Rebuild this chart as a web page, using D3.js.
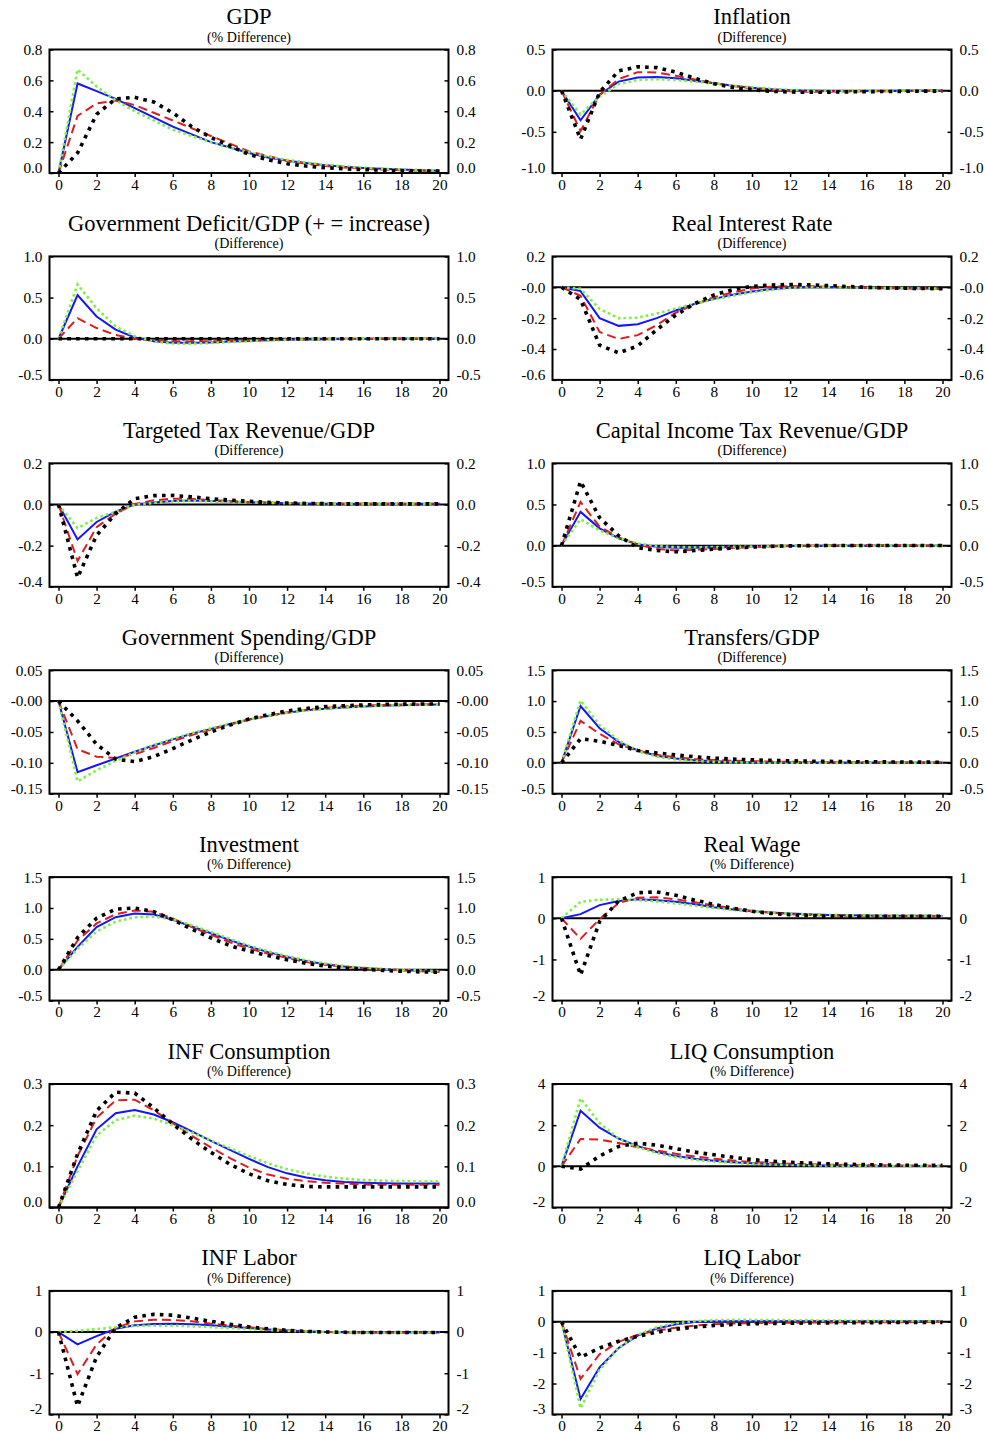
<!DOCTYPE html>
<html>
<head>
<meta charset="utf-8">
<script src="https://cdn.jsdelivr.net/npm/d3@7/dist/d3.min.js"></script>
<style>
  html, body { margin: 0; padding: 0; background: #fff; }
  svg { display: block; }
</style>
</head>
<body>
<div id="chart"></div>
<script>
// Quarters after the shock
const quarters = [0, 1, 2, 3, 4, 5, 6, 7, 8, 9, 10, 11, 12, 13, 14, 15, 16, 17, 18, 19, 20];
const quarterTicks = [0, 2, 4, 6, 8, 10, 12, 14, 16, 18, 20];

// Each panel has four responses: solid (blue), dashed (red), dotted (green), heavy dotted (black)
const gdpSolid  = [0, 0.58, 0.53, 0.48, 0.42, 0.36, 0.30, 0.25, 0.20, 0.165, 0.13, 0.10, 0.08, 0.065, 0.05, 0.04, 0.033, 0.027, 0.022, 0.018, 0.015];
const gdpDashed = [0, 0.37, 0.45, 0.47, 0.44, 0.39, 0.34, 0.29, 0.24, 0.19, 0.14, 0.11, 0.08, 0.06, 0.045, 0.035, 0.027, 0.022, 0.018, 0.015, 0.013];
const gdpDotted = [0, 0.67, 0.56, 0.47, 0.40, 0.34, 0.28, 0.24, 0.20, 0.165, 0.135, 0.105, 0.085, 0.068, 0.053, 0.042, 0.034, 0.028, 0.023, 0.019, 0.016];
const gdpHeavy  = [0, 0.13, 0.38, 0.48, 0.49, 0.46, 0.39, 0.30, 0.23, 0.175, 0.12, 0.085, 0.06, 0.045, 0.034, 0.027, 0.022, 0.018, 0.015, 0.013, 0.012];
const gdpTicks  = ["0.8", "0.6", "0.4", "0.2", "0.0"];

const infSolid  = [0, -0.36, -0.05, 0.11, 0.16, 0.165, 0.15, 0.12, 0.09, 0.06, 0.035, 0.018, 0.006, -0.002, -0.005, -0.005, -0.004, -0.003, -0.002, -0.001, 0];
const infDashed = [0, -0.49, -0.05, 0.14, 0.225, 0.22, 0.18, 0.135, 0.09, 0.057, 0.03, 0.01, -0.006, -0.012, -0.012, -0.01, -0.008, -0.006, -0.004, -0.002, -0.001];
const infDotted = [0, -0.29, -0.07, 0.08, 0.13, 0.14, 0.13, 0.11, 0.085, 0.06, 0.04, 0.022, 0.009, 0.0, -0.004, -0.005, -0.004, -0.003, -0.002, -0.001, 0];
const infHeavy  = [0, -0.59, -0.02, 0.24, 0.29, 0.28, 0.225, 0.15, 0.085, 0.04, 0.012, -0.008, -0.016, -0.02, -0.018, -0.015, -0.012, -0.01, -0.008, -0.006, -0.005];
const infTicks  = ["0.5", "0.0", "-0.5", "-1.0"];

const defSolid  = [0, 0.53, 0.27, 0.11, 0.015, -0.03, -0.048, -0.05, -0.045, -0.035, -0.027, -0.019, -0.012, -0.008, -0.005, -0.003, -0.002, -0.001, 0, 0, 0];
const defDashed = [0, 0.25, 0.13, 0.045, 0.0, -0.02, -0.03, -0.033, -0.03, -0.025, -0.02, -0.015, -0.01, -0.007, -0.004, -0.003, -0.002, -0.001, 0, 0, 0];
const defDotted = [0, 0.66, 0.37, 0.15, 0.03, -0.035, -0.058, -0.06, -0.052, -0.04, -0.03, -0.02, -0.013, -0.008, -0.005, -0.003, -0.002, -0.001, 0, 0, 0];
const defHeavy  = [0, 0, 0, 0, 0, 0, 0, 0, 0, 0, 0, 0, 0, 0, 0, 0, 0, 0, 0, 0, 0];
const defTicks  = ["1.0", "0.5", "0.0", "-0.5"];

const rirSolid  = [0, -0.025, -0.2, -0.25, -0.24, -0.2, -0.15, -0.107, -0.075, -0.048, -0.027, -0.012, -0.003, 0.0, 0.0, -0.002, -0.004, -0.006, -0.007, -0.008, -0.009];
const rirDashed = [0, -0.055, -0.29, -0.335, -0.31, -0.245, -0.165, -0.11, -0.065, -0.033, -0.008, 0.004, 0.008, 0.007, 0.004, 0.0, -0.003, -0.005, -0.007, -0.008, -0.009];
const rirDotted = [0, -0.01, -0.14, -0.2, -0.197, -0.17, -0.138, -0.106, -0.078, -0.054, -0.033, -0.016, -0.005, 0.0, 0.0, -0.002, -0.004, -0.005, -0.006, -0.007, -0.008];
const rirHeavy  = [0, -0.08, -0.375, -0.425, -0.38, -0.275, -0.18, -0.105, -0.05, -0.015, 0.006, 0.015, 0.018, 0.016, 0.011, 0.005, 0.0, -0.004, -0.006, -0.008, -0.009];
const rirTicks  = ["0.2", "-0.0", "-0.2", "-0.4", "-0.6"];

const ttxSolid  = [0, -0.17, -0.085, -0.035, 0.0, 0.01, 0.017, 0.019, 0.017, 0.014, 0.011, 0.008, 0.006, 0.005, 0.004, 0.004, 0.003, 0.003, 0.003, 0.003, 0.003];
const ttxDashed = [0, -0.275, -0.11, -0.045, 0.002, 0.02, 0.028, 0.027, 0.021, 0.016, 0.012, 0.009, 0.007, 0.006, 0.005, 0.004, 0.004, 0.003, 0.003, 0.003, 0.003];
const ttxDotted = [0, -0.115, -0.065, -0.035, -0.002, 0.008, 0.015, 0.017, 0.015, 0.012, 0.01, 0.008, 0.006, 0.005, 0.004, 0.004, 0.003, 0.003, 0.003, 0.003, 0.003];
const ttxHeavy  = [0, -0.355, -0.15, -0.045, 0.028, 0.043, 0.044, 0.037, 0.028, 0.021, 0.015, 0.01, 0.007, 0.005, 0.004, 0.003, 0.003, 0.003, 0.003, 0.003, 0.003];
const ttxTicks  = ["0.2", "0.0", "-0.2", "-0.4"];

const ktxSolid  = [0, 0.41, 0.21, 0.09, 0.018, -0.015, -0.025, -0.026, -0.022, -0.017, -0.012, -0.008, -0.005, -0.003, -0.001, 0, 0, 0, 0, 0, 0];
const ktxDashed = [0, 0.53, 0.23, 0.1, 0.012, -0.04, -0.058, -0.052, -0.04, -0.028, -0.018, -0.01, -0.004, 0.0, 0.004, 0.007, 0.008, 0.006, 0.004, 0.003, 0.002];
const ktxDotted = [0, 0.32, 0.185, 0.09, 0.025, -0.005, -0.017, -0.02, -0.018, -0.015, -0.011, -0.008, -0.005, -0.003, -0.001, 0, 0, 0, 0, 0, 0];
const ktxHeavy  = [0, 0.78, 0.34, 0.12, -0.025, -0.06, -0.075, -0.06, -0.042, -0.03, -0.018, -0.009, -0.003, 0.0, 0.001, 0.002, 0.002, 0.002, 0.001, 0.001, 0.001];
const ktxTicks  = ["1.0", "0.5", "0.0", "-0.5"];

const gspSolid  = [0, -0.115, -0.104, -0.093, -0.082, -0.072, -0.062, -0.053, -0.045, -0.037, -0.030, -0.024, -0.019, -0.015, -0.0125, -0.0103, -0.0087, -0.0075, -0.0066, -0.006, -0.0055];
const gspDashed = [0, -0.078, -0.09, -0.092, -0.086, -0.076, -0.065, -0.055, -0.046, -0.038, -0.030, -0.024, -0.018, -0.014, -0.011, -0.0088, -0.0072, -0.0062, -0.0056, -0.0052, -0.005];
const gspDotted = [0, -0.13, -0.112, -0.097, -0.083, -0.071, -0.061, -0.052, -0.044, -0.037, -0.030, -0.024, -0.019, -0.015, -0.0125, -0.0103, -0.0087, -0.0075, -0.0066, -0.006, -0.0055];
const gspHeavy  = [0, -0.032, -0.07, -0.094, -0.098, -0.09, -0.077, -0.063, -0.05, -0.039, -0.029, -0.022, -0.016, -0.012, -0.009, -0.0075, -0.0062, -0.0055, -0.005, -0.0048, -0.0046];
const gspTicks  = ["0.05", "-0.00", "-0.05", "-0.10", "-0.15"];

const trnSolid  = [0, 0.92, 0.56, 0.34, 0.2, 0.115, 0.07, 0.043, 0.027, 0.017, 0.011, 0.007, 0.005, 0.003, 0.002, 0.001, 0.001, 0, 0, 0, 0];
const trnDashed = [0, 0.68, 0.47, 0.3, 0.195, 0.13, 0.088, 0.062, 0.045, 0.034, 0.026, 0.02, 0.016, 0.013, 0.011, 0.009, 0.008, 0.007, 0.006, 0.005, 0.005];
const trnDotted = [0, 1.01, 0.61, 0.36, 0.19, 0.1, 0.055, 0.03, 0.016, 0.009, 0.005, 0.003, 0.002, 0.001, 0, 0, 0, 0, 0, 0, 0];
const trnHeavy  = [0, 0.39, 0.35, 0.28, 0.2, 0.16, 0.128, 0.098, 0.076, 0.06, 0.048, 0.039, 0.032, 0.027, 0.023, 0.019, 0.017, 0.015, 0.013, 0.011, 0.01];
const trnTicks  = ["1.5", "1.0", "0.5", "0.0", "-0.5"];

const invSolid  = [0, 0.37, 0.69, 0.85, 0.91, 0.895, 0.81, 0.70, 0.59, 0.48, 0.375, 0.285, 0.205, 0.14, 0.09, 0.054, 0.027, 0.01, -0.005, -0.016, -0.025];
const invDashed = [0, 0.47, 0.75, 0.9, 0.96, 0.94, 0.83, 0.69, 0.565, 0.445, 0.34, 0.26, 0.19, 0.125, 0.08, 0.048, 0.025, 0.006, -0.01, -0.025, -0.035];
const invDotted = [0, 0.34, 0.62, 0.78, 0.85, 0.86, 0.815, 0.72, 0.61, 0.5, 0.39, 0.3, 0.22, 0.15, 0.1, 0.06, 0.032, 0.013, -0.002, -0.013, -0.022];
const invHeavy  = [0, 0.52, 0.835, 0.98, 1.0, 0.94, 0.81, 0.655, 0.515, 0.39, 0.3, 0.23, 0.16, 0.105, 0.06, 0.028, 0.006, -0.01, -0.025, -0.035, -0.042];
const invTicks  = ["1.5", "1.0", "0.5", "0.0", "-0.5"];

const rwgSolid  = [0, 0.1, 0.32, 0.42, 0.46, 0.44, 0.40, 0.34, 0.27, 0.215, 0.17, 0.14, 0.115, 0.095, 0.082, 0.074, 0.068, 0.064, 0.062, 0.06, 0.058];
const rwgDashed = [0, -0.5, -0.02, 0.37, 0.5, 0.51, 0.46, 0.39, 0.31, 0.24, 0.18, 0.135, 0.1, 0.08, 0.068, 0.06, 0.055, 0.052, 0.05, 0.05, 0.05];
const rwgDotted = [0, 0.4, 0.45, 0.46, 0.44, 0.41, 0.36, 0.305, 0.25, 0.205, 0.165, 0.135, 0.11, 0.092, 0.08, 0.072, 0.066, 0.063, 0.06, 0.058, 0.057];
const rwgHeavy  = [0, -1.38, -0.08, 0.42, 0.62, 0.64, 0.56, 0.44, 0.335, 0.245, 0.17, 0.118, 0.085, 0.065, 0.052, 0.048, 0.046, 0.045, 0.045, 0.045, 0.045];
const rwgTicks  = ["1", "0", "-1", "-2"];

const infcSolid  = [0, 0.1, 0.19, 0.229, 0.237, 0.226, 0.207, 0.185, 0.162, 0.14, 0.118, 0.098, 0.083, 0.073, 0.066, 0.062, 0.06, 0.059, 0.058, 0.058, 0.058];
const infcDashed = [0, 0.125, 0.218, 0.26, 0.262, 0.236, 0.205, 0.174, 0.146, 0.12, 0.097, 0.08, 0.07, 0.064, 0.06, 0.058, 0.056, 0.055, 0.055, 0.055, 0.055];
const infcDotted = [0, 0.088, 0.175, 0.212, 0.223, 0.216, 0.2, 0.182, 0.163, 0.144, 0.125, 0.107, 0.093, 0.083, 0.075, 0.07, 0.067, 0.065, 0.064, 0.063, 0.063];
const infcHeavy  = [0, 0.13, 0.235, 0.28, 0.278, 0.242, 0.203, 0.166, 0.134, 0.105, 0.082, 0.065, 0.056, 0.051, 0.05, 0.05, 0.05, 0.05, 0.05, 0.05, 0.05];
const infcTicks  = ["0.3", "0.2", "0.1", "0.0"];

const liqcSolid  = [0, 2.7, 1.88, 1.35, 0.98, 0.7, 0.5, 0.37, 0.27, 0.2, 0.15, 0.11, 0.08, 0.06, 0.045, 0.035, 0.028, 0.022, 0.018, 0.015, 0.012];
const liqcDashed = [0, 1.33, 1.3, 1.13, 0.93, 0.77, 0.61, 0.48, 0.37, 0.28, 0.21, 0.165, 0.13, 0.1, 0.08, 0.065, 0.055, 0.047, 0.04, 0.035, 0.03];
const liqcDotted = [0, 3.3, 2.1, 1.35, 0.93, 0.64, 0.45, 0.32, 0.23, 0.17, 0.125, 0.09, 0.065, 0.05, 0.037, 0.028, 0.022, 0.017, 0.014, 0.011, 0.009];
const liqcHeavy  = [0, -0.13, 0.5, 0.97, 1.12, 1.03, 0.86, 0.69, 0.56, 0.44, 0.33, 0.25, 0.195, 0.16, 0.125, 0.1, 0.08, 0.065, 0.055, 0.05, 0.045];
const liqcTicks  = ["4", "2", "0", "-2"];

const inflSolid  = [0, -0.3, -0.1, 0.08, 0.165, 0.195, 0.2, 0.187, 0.163, 0.13, 0.098, 0.065, 0.04, 0.018, 0.002, -0.006, -0.01, -0.01, -0.01, -0.01, -0.01];
const inflDashed = [0, -1.02, -0.3, 0.1, 0.26, 0.3, 0.295, 0.26, 0.205, 0.16, 0.115, 0.075, 0.042, 0.017, 0.002, -0.006, -0.01, -0.01, -0.01, -0.01, -0.01];
const inflDotted = [0, 0.03, 0.07, 0.12, 0.15, 0.155, 0.155, 0.14, 0.12, 0.097, 0.073, 0.05, 0.03, 0.015, 0.002, -0.006, -0.01, -0.01, -0.01, -0.01, -0.01];
const inflHeavy  = [0, -1.8, -0.6, 0.1, 0.36, 0.43, 0.41, 0.34, 0.26, 0.19, 0.125, 0.08, 0.042, 0.017, 0.002, -0.006, -0.01, -0.01, -0.01, -0.01, -0.01];
const inflTicks  = ["1", "0", "-1", "-2"];

const liqlSolid  = [0, -2.5, -1.48, -0.85, -0.45, -0.22, -0.08, -0.01, 0.01, 0.02, 0.02, 0.02, 0.02, 0.02, 0.02, 0.02, 0.02, 0.02, 0.02, 0.02, 0.02];
const liqlDashed = [0, -1.85, -1.05, -0.65, -0.42, -0.29, -0.19, -0.125, -0.08, -0.055, -0.042, -0.035, -0.03, -0.025, -0.02, -0.018, -0.015, -0.013, -0.012, -0.011, -0.01];
const liqlDotted = [0, -2.8, -1.55, -0.85, -0.42, -0.18, -0.05, 0.02, 0.05, 0.06, 0.06, 0.055, 0.05, 0.045, 0.04, 0.035, 0.03, 0.03, 0.025, 0.025, 0.02];
const liqlHeavy  = [0, -1.15, -0.85, -0.63, -0.47, -0.34, -0.24, -0.17, -0.12, -0.088, -0.066, -0.054, -0.046, -0.04, -0.035, -0.031, -0.028, -0.025, -0.023, -0.021, -0.02];
const liqlTicks  = ["1", "0", "-1", "-2", "-3"];

const panels = [
  { title: "GDP", sub: "(% Difference)", ticks: gdpTicks, series: [gdpSolid, gdpDashed, gdpDotted, gdpHeavy] },
  { title: "Inflation", sub: "(Difference)", ticks: infTicks, series: [infSolid, infDashed, infDotted, infHeavy] },
  { title: "Government Deficit/GDP (+ = increase)", sub: "(Difference)", ticks: defTicks, series: [defSolid, defDashed, defDotted, defHeavy] },
  { title: "Real Interest Rate", sub: "(Difference)", ticks: rirTicks, series: [rirSolid, rirDashed, rirDotted, rirHeavy] },
  { title: "Targeted Tax Revenue/GDP", sub: "(Difference)", ticks: ttxTicks, series: [ttxSolid, ttxDashed, ttxDotted, ttxHeavy] },
  { title: "Capital Income Tax Revenue/GDP", sub: "(Difference)", ticks: ktxTicks, series: [ktxSolid, ktxDashed, ktxDotted, ktxHeavy] },
  { title: "Government Spending/GDP", sub: "(Difference)", ticks: gspTicks, series: [gspSolid, gspDashed, gspDotted, gspHeavy] },
  { title: "Transfers/GDP", sub: "(Difference)", ticks: trnTicks, series: [trnSolid, trnDashed, trnDotted, trnHeavy] },
  { title: "Investment", sub: "(% Difference)", ticks: invTicks, series: [invSolid, invDashed, invDotted, invHeavy] },
  { title: "Real Wage", sub: "(% Difference)", ticks: rwgTicks, series: [rwgSolid, rwgDashed, rwgDotted, rwgHeavy] },
  { title: "INF Consumption", sub: "(% Difference)", ticks: infcTicks, series: [infcSolid, infcDashed, infcDotted, infcHeavy] },
  { title: "LIQ Consumption", sub: "(% Difference)", ticks: liqcTicks, series: [liqcSolid, liqcDashed, liqcDotted, liqcHeavy] },
  { title: "INF Labor", sub: "(% Difference)", ticks: inflTicks, series: [inflSolid, inflDashed, inflDotted, inflHeavy] },
  { title: "LIQ Labor", sub: "(% Difference)", ticks: liqlTicks, series: [liqlSolid, liqlDashed, liqlDotted, liqlHeavy] }
];

// Line styles, in drawing order
const lineStyles = [
  { color: "#1414ff", width: 2,   dash: null },
  { color: "#dc1e1e", width: 2,   dash: "9,5" },
  { color: "#7cf23a", width: 2.6, dash: "2.6,3" },
  { color: "#000000", width: 3.6, dash: "3.6,5.2" }
];

const W = 985, H = 1434;
const serif = "'Liberation Serif', 'Times New Roman', Times, serif";
const colLeft = [49.5, 552.5];
const boxW = 399, boxH = 123.5;
const rowTop0 = 49.5, rowStep = 206.9;

const svg = d3.select("#chart").append("svg")
  .attr("width", W).attr("height", H)
  .style("background", "#fff");

panels.forEach((p, i) => {
  const col = i % 2, row = Math.floor(i / 2);
  const g = svg.append("g")
    .attr("transform", `translate(${colLeft[col]},${rowTop0 + row * rowStep})`);

  const tickVals = p.ticks.map(Number);
  const x = d3.scaleLinear().domain([0, 20]).range([9, 390]);
  const y = d3.scaleLinear().domain([d3.min(tickVals), d3.max(tickVals)]).range([boxH, 0]);

  // titles
  g.append("text")
    .attr("x", boxW / 2).attr("y", -25.5)
    .attr("text-anchor", "middle")
    .attr("font-family", serif).attr("font-size", 22.5)
    .text(p.title);
  g.append("text")
    .attr("x", boxW / 2).attr("y", -8)
    .attr("text-anchor", "middle")
    .attr("font-family", serif).attr("font-size", 14)
    .text(p.sub);

  // zero reference line
  g.append("line")
    .attr("x1", 0).attr("x2", boxW)
    .attr("y1", y(0)).attr("y2", y(0))
    .attr("stroke", "#000").attr("stroke-width", 2);

  // response paths
  const line = d3.line()
    .x((d, k) => x(quarters[k]))
    .y(d => y(d));
  lineStyles.forEach((s, k) => {
    g.append("path")
      .attr("d", line(p.series[k]))
      .attr("fill", "none")
      .attr("stroke", s.color)
      .attr("stroke-width", s.width)
      .attr("stroke-dasharray", s.dash)
      .attr("stroke-linejoin", "miter");
  });

  // axes
  const fmt = (d) => p.ticks[tickVals.indexOf(d)];
  const styleAxis = (sel) => {
    sel.select(".domain").remove();
    sel.attr("font-family", serif).attr("font-size", 15.3);
    sel.selectAll(".tick line").attr("stroke", "#000").attr("stroke-width", 1.5);
    sel.selectAll(".tick text").attr("fill", "#000");
  };
  const clampLabels = (sel) => {
    sel.selectAll(".tick").each(function (d) {
      const yy = y(d);
      if (yy > boxH - 5.5) {
        d3.select(this).select("text").attr("y", (boxH - 5.5) - yy);
      }
    });
  };

  g.append("g")
    .call(d3.axisLeft(y).tickValues(tickVals).tickFormat(fmt).tickSizeInner(-4).tickSizeOuter(0).tickPadding(7))
    .call(styleAxis).call(clampLabels);
  g.append("g")
    .attr("transform", `translate(${boxW},0)`)
    .call(d3.axisRight(y).tickValues(tickVals).tickFormat(fmt).tickSizeInner(-4).tickSizeOuter(0).tickPadding(8))
    .call(styleAxis).call(clampLabels);
  g.append("g")
    .attr("transform", `translate(0,${boxH})`)
    .call(d3.axisBottom(x).tickValues(quarterTicks).tickFormat(d3.format("d")).tickSizeInner(4).tickSizeOuter(0).tickPadding(2))
    .call(styleAxis);

  // frame
  g.append("rect")
    .attr("width", boxW).attr("height", boxH)
    .attr("fill", "none").attr("stroke", "#000").attr("stroke-width", 2);
});
</script>
</body>
</html>
